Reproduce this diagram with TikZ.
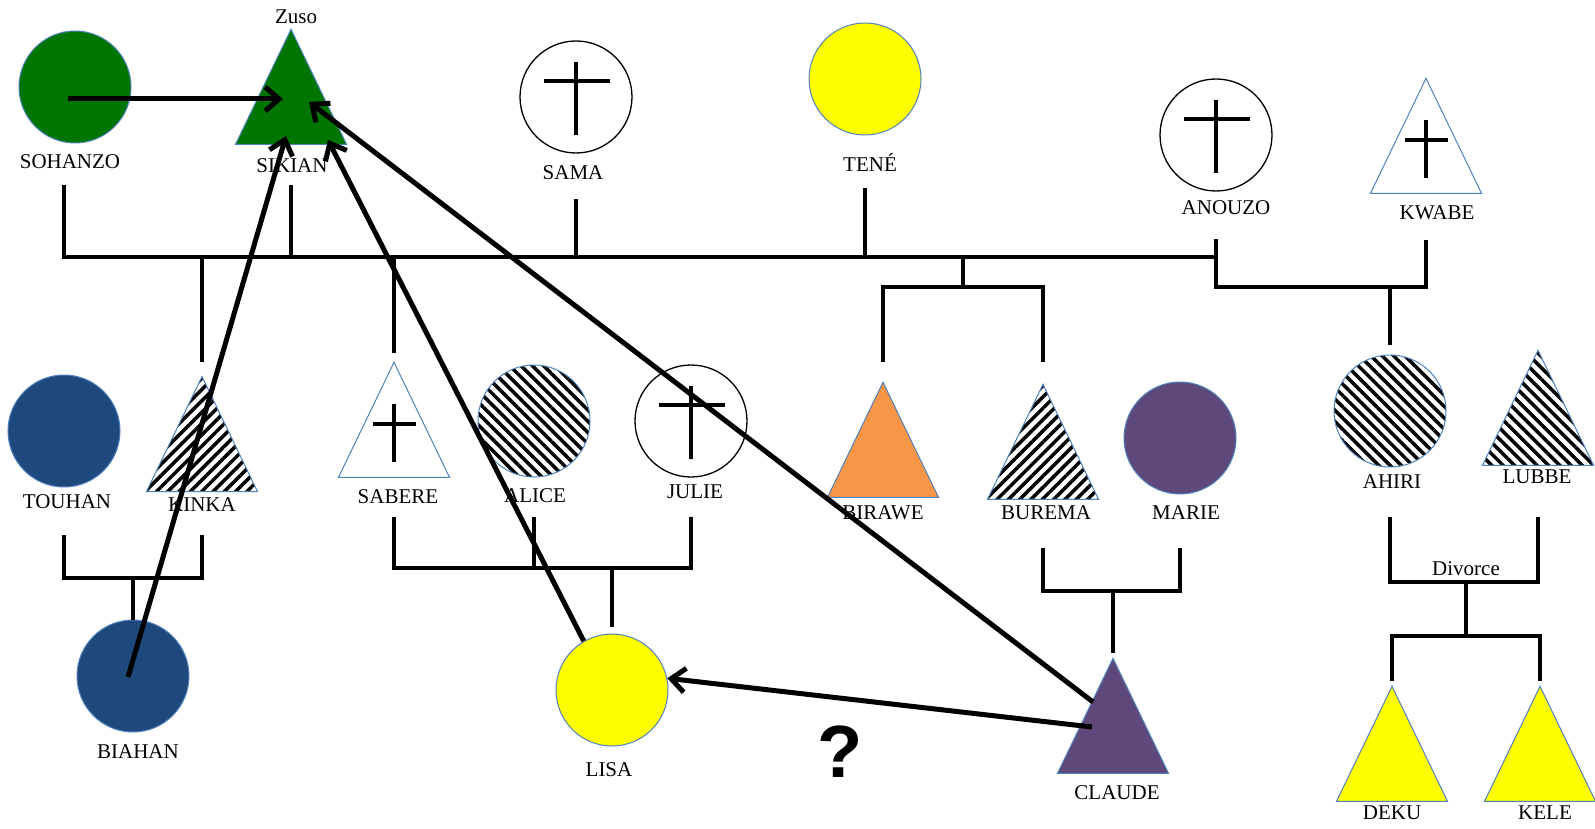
\documentclass[tikz,border=0pt]{standalone}
\usepackage{fontspec}
\setmainfont{Liberation Serif}
\newfontfamily\askfont{Liberation Sans}
\usepackage{tikz}
\usetikzlibrary{positioning}
\usetikzlibrary{shapes.geometric}
\usetikzlibrary{patterns.meta}
\usetikzlibrary{arrows.meta}
\usetikzlibrary{calc}
\definecolor{famgreen}{RGB}{0,118,0}
\definecolor{famblue}{RGB}{31,73,125}
\definecolor{famyellow}{RGB}{255,255,0}
\definecolor{famorange}{RGB}{247,150,70}
\definecolor{fampurple}{RGB}{95,73,122}
\definecolor{edgeblue}{RGB}{79,129,189}

\tikzset{
  female/.style={circle, minimum size=112pt, inner sep=0pt, draw=edgeblue, line width=1pt},
  male/.style={isosceles triangle, shape border rotate=90, isosceles triangle stretches,
    minimum width=111pt, minimum height=115pt, inner sep=0pt, anchor=apex,
    draw=edgeblue, line width=1pt},
  dead/.style={draw=black, line width=1.3pt, fill=white},
  hatchup/.style={pattern={Lines[angle=45,distance=8pt,line width=3.5pt]}},
  hatchdown/.style={pattern={Lines[angle=-45,distance=8pt,line width=3.5pt]}},
  who/.style={font=\fontsize{21}{24}\selectfont, inner sep=1pt},
  famline/.style={line width=4pt},
  crossline/.style={line width=4pt},
  link/.style={line width=5pt, -{Straight Barb[length=14pt,width=24pt]}},
}

\begin{document}
\begin{tikzpicture}[x=1pt, y=-1pt]
\useasboundingbox (0,0) rectangle (1595,829);

% first generation
\node[female, fill=famgreen] (sohanzo) at (75,87) {};
\node[male, fill=famgreen] (sikian) at (291,28) {};
\node[female, dead] (sama) at (576,97) {};
\node[female, fill=famyellow] (tene) at (865,79) {};
\node[female, dead] (anouzo) at (1216,135) {};
\node[male, fill=white] (kwabe) at (1426,77) {};
% second generation
\node[female, fill=famblue] (touhan) at (64,431) {};
\node[male, hatchup] (kinka) at (202,372) {};
\node[male, fill=white] (sabere) at (394,361) {};
\node[female, hatchdown] (alice) at (534,421) {};
\node[female, dead] (julie) at (691,421) {};
\node[male, fill=famorange] (birawe) at (883,381) {};
\node[male, hatchup] (burema) at (1043,383) {};
\node[female, fill=fampurple] (marie) at (1180,438) {};
\node[female, hatchdown] (ahiri) at (1390,411) {};
\node[male, hatchdown] (lubbe) at (1538,349) {};
% third generation
\node[female, fill=famblue] (biahan) at (133,676) {};
\node[female, fill=famyellow] (lisa) at (612,690) {};
\node[male, fill=fampurple] (claude) at (1113,657) {};
\node[male, fill=famyellow] (deku) at (1392,685) {};
\node[male, fill=famyellow] (kele) at (1540,685) {};

% crosses
\foreach \n in {sama,anouzo,julie}
  \draw[crossline] ([yshift=35pt]\n.center) -- ([yshift=-38pt]\n.center)
    ([shift={(-32pt,16pt)}]\n.center) -- ([shift={(34pt,16pt)}]\n.center);
\foreach \n in {kwabe,sabere}
  \draw[crossline] ([yshift=-43pt]\n.apex) -- ([yshift=-101pt]\n.apex)
    ([shift={(-21pt,-63pt)}]\n.apex) -- ([shift={(22pt,-63pt)}]\n.apex);

% names
\node[who] (zuso) at (296,17) {Zuso};
\node[who] (lsohanzo) at (70,162) {SOHANZO};
\node[who] (lsikian) at (292,166) {SIKIAN};
\node[who] (lsama) at (573,173) {SAMA};
\node[who] (ltene) at (870,162) {TENÉ};
\node[who] (lanouzo) at (1226,208) {ANOUZO};
\node[who] (lkwabe) at (1437,213) {KWABE};
\node[who] (ltouhan) at (67,502) {TOUHAN};
\node[who] (lkinka) at (202,505) {KINKA};
\node[who] (lsabere) at (398,497) {SABERE};
\node[who] (lalice) at (535,496) {ALICE};
\node[who] (ljulie) at (695,492) {JULIE};
\node[who] (lbirawe) at (883,513) {BIRAWE};
\node[who] (lburema) at (1046,513) {BUREMA};
\node[who] (lmarie) at (1186,513) {MARIE};
\node[who] (lahiri) at (1392,482) {AHIRI};
\node[who] (llubbe) at (1537,477) {LUBBE};
\node[who] (lbiahan) at (138,752) {BIAHAN};
\node[who] (llisa) at (609,770) {LISA};
\node[who] (lclaude) at (1117,793) {CLAUDE};
\node[who] (ldeku) at (1392,813) {DEKU};
\node[who] (lkele) at (1545,813) {KELE};
\node[who] (divorce) at (1466,569) {Divorce};
\node[font=\askfont\bfseries\fontsize{74}{74}\selectfont, inner sep=0pt] (ask) at (840,752) {?};

% family lines
\coordinate (bar1) at (0,257);
\coordinate (bar2) at (0,287);
\coordinate (sibs) at ($(birawe)!.5!(burema)$);
\coordinate (kids) at ($(deku)!.5!(kele)$);
\draw[famline] ([shift={(-11,98)}]sohanzo.center) |- (anouzo |- bar1);
\draw[famline] (sikian |- 0,185) -- (sikian |- bar1);
\draw[famline] (sama |- 0,199) -- (sama |- bar1);
\draw[famline] (tene |- 0,188) -- (tene |- bar1);
\draw[famline] (kinka |- bar1) -- (kinka |- 0,362);
\draw[famline] (sabere |- bar1) -- (sabere |- 0,353);
\draw[famline] (sibs |- bar1) -- (sibs |- bar2);
\draw[famline] (birawe |- 0,362) |- (burema |- bar2) -- (burema |- 0,362);
\draw[famline] (anouzo |- 0,239) |- (kwabe |- bar2) -- (kwabe |- 0,240);
\draw[famline] (ahiri |- bar2) -- (ahiri |- 0,345);
\draw[famline] (touhan |- 0,535) |- (kinka |- 0,578) -- (kinka |- 0,535);
\draw[famline] (biahan |- 0,578) -- (biahan.north);
\draw[famline] (sabere |- 0,517) |- (julie |- 0,568) -- (julie |- 0,517);
\draw[famline] (alice |- 0,517) -- (alice |- 0,568);
\draw[famline] (lisa |- 0,568) -- (lisa |- 0,627);
\draw[famline] (burema |- 0,548) |- (marie |- 0,591) -- (marie |- 0,548);
\draw[famline] (claude |- 0,591) -- (claude |- 0,653);
\draw[famline] (ahiri |- 0,517) |- (lubbe |- 0,582) -- (lubbe |- 0,517);
\draw[famline] (kids |- 0,582) -- (kids |- 0,636);
\draw[famline] (deku |- 0,681) |- (kele |- 0,636) -- (kele |- 0,681);

% arrows
\draw[link] ([shift={(-7,12)}]sohanzo.center) -- ([shift={(-8,71)}]sikian.apex);
\draw[link] ([shift={(-5,1)}]biahan.center) -- ([shift={(-5,108)}]sikian.apex);
\draw[link] (lisa.120) -- ([shift={(37,112)}]sikian.apex);
\draw[link] ([shift={(-20,45)}]claude.apex) -- ([shift={(18,74)}]sikian.apex);
\draw[link] ([shift={(-21,70)}]claude.apex) -- (lisa.12);
\end{tikzpicture}
\end{document}
